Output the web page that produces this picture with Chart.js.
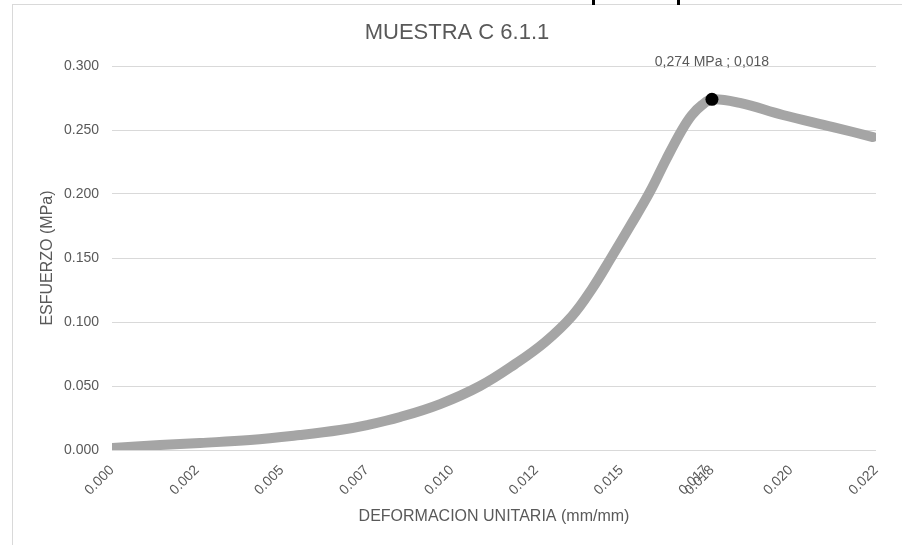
<!DOCTYPE html>
<html lang="es">
<head>
<meta charset="UTF-8">
<title>MUESTRA C 6.1.1</title>
<script src="https://cdn.jsdelivr.net/npm/chart.js"></script>
<style>
    html, body { margin: 0; padding: 0; background: #fff; overflow: hidden; }
    #marco { position: absolute; left: 12px; top: 4px; width: 1000px; height: 700px; border: 1px solid #d9d9d9; }
    .trazo { position: absolute; top: 0; width: 3px; height: 5px; background: #000; }
    #grafico { position: absolute; left: 0; top: 0; }
</style>
</head>
<body>
<div id="marco"></div>
<div class="trazo" style="left:592px"></div>
<div class="trazo" style="left:677px"></div>
<canvas id="grafico" width="902" height="545"></canvas>
<script>
    // curva esfuerzo - deformacion
    let deformacion = [0, 0.00141, 0.00258, 0.00405, 0.00551, 0.00668, 0.00748, 0.00845, 0.00962, 0.01079, 0.01182, 0.0127, 0.01349, 0.01407, 0.01463, 0.01519, 0.01577, 0.01624, 0.01671, 0.017, 0.0173, 0.01759, 0.01841, 0.01967, 0.02114, 0.02231]
    let esfuerzo = [0.0016, 0.0039, 0.0055, 0.0078, 0.0117, 0.0156, 0.0195, 0.0258, 0.0359, 0.05, 0.0672, 0.0844, 0.1047, 0.1258, 0.15, 0.175, 0.2016, 0.2266, 0.25, 0.2617, 0.2695, 0.274, 0.2711, 0.2617, 0.2523, 0.2445]
    // punto maximo
    let picoX = [0.01759]
    let picoY = [0.274]
    let etiquetaPico = "0,274 MPa ; 0,018"
    // marcas de los ejes
    let ticksX = [0, 0.00249, 0.00498, 0.00747, 0.00996, 0.01244, 0.01493, 0.01742, 0.01759, 0.0199, 0.0224]
    let etiquetasX = ["0.000", "0.002", "0.005", "0.007", "0.010", "0.012", "0.015", "0.017", "0.018", "0.020", "0.022"]
    let ticksY = [0, 0.05, 0.1, 0.15, 0.2, 0.25, 0.3]

    const gris = '#595959'
    const fuente = "'Liberation Sans', Arial, sans-serif"

    let puntos = deformacion.map((d, i) => ({ x: d, y: esfuerzo[i] }))
    let puntoPico = picoX.map((d, i) => ({ x: d, y: picoY[i] }))

    // etiqueta del punto maximo
    const etiquetaPlugin = {
        id: 'etiquetaPico',
        afterDatasetsDraw(chart) {
            const p = chart.getDatasetMeta(1).data[0]
            const ctx = chart.ctx
            ctx.save()
            ctx.font = "14px " + fuente
            ctx.fillStyle = gris
            ctx.textAlign = 'center'
            ctx.textBaseline = 'middle'
            ctx.fillText(etiquetaPico, p.x, p.y - 37)
            ctx.restore()
        }
    }

    var ctx = document.getElementById('grafico').getContext('2d')
    let grafico = new Chart(ctx, {
        type: 'line',
        data: {
            datasets: [{
                data: puntos,
                order: 2,
                borderColor: '#a5a5a5',
                borderWidth: 10,
                borderCapStyle: 'round',
                borderJoinStyle: 'round',
                pointRadius: 0,
                fill: false,
                tension: 0.4
            }, {
                data: puntoPico,
                order: 1,
                showLine: false,
                pointRadius: 6.5,
                pointBackgroundColor: '#000',
                pointBorderColor: '#000',
                pointBorderWidth: 0
            }]
        },
        options: {
            responsive: false,
            animation: false,
            layout: { padding: { left: 38, right: 26, top: 0, bottom: 0 } },
            plugins: {
                legend: { display: false },
                tooltip: { enabled: false },
                title: {
                    display: true,
                    text: 'MUESTRA C 6.1.1',
                    color: gris,
                    font: { family: fuente, size: 22, weight: 'normal' },
                    padding: { top: 20, bottom: 19.6 }
                }
            },
            scales: {
                x: {
                    type: 'linear',
                    min: 0,
                    max: 0.0224,
                    afterBuildTicks(scale) {
                        scale.ticks = ticksX.map(v => ({ value: v }))
                    },
                    afterFit(scale) { scale.height = 95 },
                    grid: { display: false },
                    border: { display: false },
                    ticks: {
                        autoSkip: false,
                        minRotation: 45,
                        maxRotation: 45,
                        padding: 4,
                        color: gris,
                        font: { family: fuente, size: 14 },
                        callback: function(v) {
                            let i = ticksX.indexOf(v)
                            return i >= 0 ? etiquetasX[i] : ''
                        }
                    },
                    title: {
                        display: true,
                        text: 'DEFORMACION UNITARIA (mm/mm)',
                        color: gris,
                        font: { family: fuente, size: 16 },
                        padding: { top: 0, bottom: 18.4 }
                    }
                },
                y: {
                    min: 0,
                    max: 0.3,
                    afterBuildTicks(scale) {
                        scale.ticks = ticksY.map(v => ({ value: v }))
                    },
                    afterFit(scale) { scale.width = 74 },
                    grid: { color: '#d9d9d9', drawTicks: false },
                    border: { display: false },
                    ticks: {
                        padding: 13,
                        color: gris,
                        font: { family: fuente, size: 14 },
                        callback: v => v.toFixed(3)
                    },
                    title: {
                        display: true,
                        text: 'ESFUERZO (MPa)',
                        color: gris,
                        font: { family: fuente, size: 16 },
                        padding: { top: 0, bottom: 0 }
                    }
                }
            }
        },
        plugins: [etiquetaPlugin]
    })
</script>
</body>
</html>
